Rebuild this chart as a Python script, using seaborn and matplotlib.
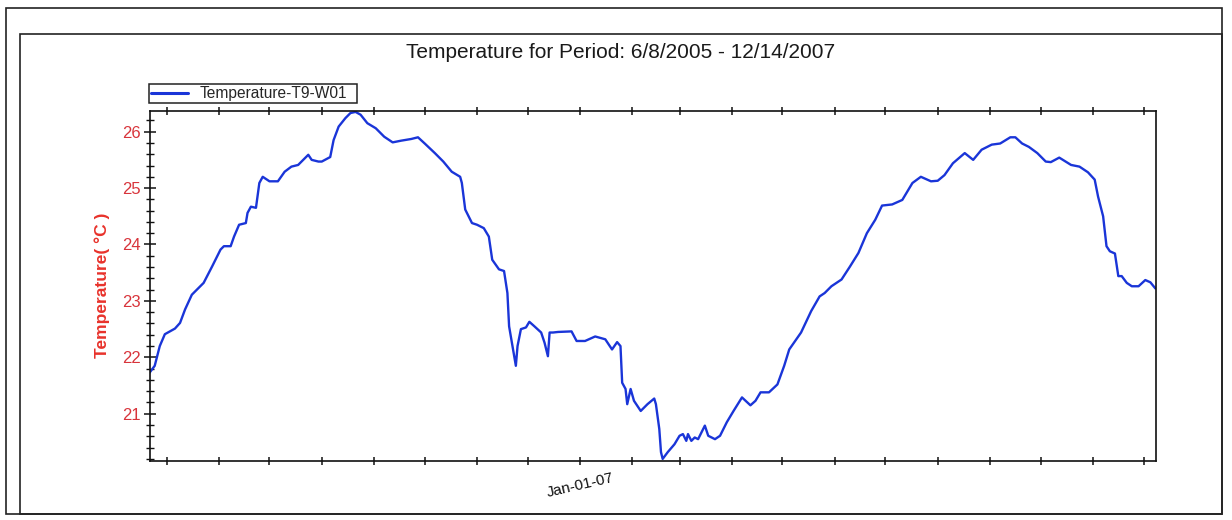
import matplotlib
matplotlib.use("Agg")
import matplotlib.pyplot as plt
import matplotlib.dates as mdates
from matplotlib.patches import Rectangle
from matplotlib.ticker import FuncFormatter, MultipleLocator
import pandas as pd
import seaborn as sns

# Water temperature record, sensor T9-W01
dates = [
    "2006-04-21", "2006-04-24", "2006-04-27", "2006-04-30", "2006-05-06", "2006-05-09",
    "2006-05-12", "2006-05-16", "2006-05-23", "2006-05-28", "2006-06-02", "2006-06-04",
    "2006-06-08", "2006-06-10", "2006-06-13", "2006-06-17", "2006-06-18", "2006-06-20",
    "2006-06-23", "2006-06-25", "2006-06-27", "2006-07-01", "2006-07-06", "2006-07-10",
    "2006-07-14", "2006-07-18", "2006-07-21", "2006-07-24", "2006-07-26", "2006-07-30",
    "2006-08-01", "2006-08-06", "2006-08-08", "2006-08-11", "2006-08-15", "2006-08-18",
    "2006-08-21", "2006-08-24", "2006-08-28", "2006-09-02", "2006-09-07", "2006-09-12",
    "2006-09-17", "2006-09-23", "2006-09-27", "2006-10-01", "2006-10-07", "2006-10-12",
    "2006-10-17", "2006-10-22", "2006-10-23", "2006-10-25", "2006-10-27", "2006-10-29",
    "2006-11-01", "2006-11-05", "2006-11-08", "2006-11-10", "2006-11-14", "2006-11-17",
    "2006-11-19", "2006-11-20", "2006-11-22", "2006-11-24", "2006-11-25", "2006-11-27",
    "2006-11-30", "2006-12-02", "2006-12-05", "2006-12-09", "2006-12-11", "2006-12-13",
    "2006-12-14", "2006-12-16", "2006-12-19", "2006-12-27", "2006-12-30", "2007-01-04",
    "2007-01-10", "2007-01-16", "2007-01-20", "2007-01-23", "2007-01-25", "2007-01-26",
    "2007-01-28", "2007-01-29", "2007-01-31", "2007-02-02", "2007-02-06", "2007-02-10",
    "2007-02-14", "2007-02-15", "2007-02-17", "2007-02-18", "2007-02-19", "2007-02-22",
    "2007-02-26", "2007-03-01", "2007-03-03", "2007-03-05", "2007-03-06", "2007-03-08",
    "2007-03-10", "2007-03-12", "2007-03-16", "2007-03-18", "2007-03-22", "2007-03-25",
    "2007-03-29", "2007-04-02", "2007-04-07", "2007-04-12", "2007-04-15", "2007-04-18",
    "2007-04-23", "2007-04-28", "2007-05-02", "2007-05-05", "2007-05-12", "2007-05-18",
    "2007-05-23", "2007-05-26", "2007-05-30", "2007-06-05", "2007-06-10", "2007-06-15",
    "2007-06-20", "2007-06-25", "2007-06-29", "2007-07-05", "2007-07-11", "2007-07-17",
    "2007-07-22", "2007-07-28", "2007-08-01", "2007-08-05", "2007-08-10", "2007-08-17",
    "2007-08-22", "2007-08-27", "2007-09-02", "2007-09-07", "2007-09-13", "2007-09-16",
    "2007-09-20", "2007-09-24", "2007-09-29", "2007-10-04", "2007-10-07", "2007-10-12",
    "2007-10-19", "2007-10-24", "2007-10-29", "2007-11-02", "2007-11-04", "2007-11-07",
    "2007-11-09", "2007-11-11", "2007-11-14", "2007-11-16", "2007-11-18", "2007-11-21",
    "2007-11-24", "2007-11-28", "2007-12-02", "2007-12-05", "2007-12-08",
]
temperature = [
    21.73, 21.85, 22.20, 22.41, 22.51, 22.61,
    22.85, 23.11, 23.32, 23.61, 23.91, 23.97,
    23.97, 24.14, 24.35, 24.38, 24.56, 24.67,
    24.65, 25.09, 25.20, 25.12, 25.12, 25.29,
    25.38, 25.41, 25.50, 25.59, 25.50, 25.47,
    25.47, 25.55, 25.85, 26.09, 26.24, 26.33,
    26.35, 26.30, 26.15, 26.06, 25.91, 25.81,
    25.84, 25.87, 25.90, 25.79, 25.62, 25.47,
    25.29, 25.20, 25.09, 24.62, 24.50, 24.38,
    24.35, 24.29, 24.14, 23.73, 23.56, 23.53,
    23.14, 22.55, 22.20, 21.85, 22.20, 22.50,
    22.53, 22.63, 22.55, 22.44, 22.26, 22.02,
    22.44, 22.44, 22.45, 22.46, 22.29, 22.29,
    22.37, 22.32, 22.14, 22.27, 22.20, 21.55,
    21.44, 21.17, 21.44, 21.23, 21.05, 21.17,
    21.27, 21.17, 20.73, 20.32, 20.20, 20.32,
    20.46, 20.61, 20.64, 20.52, 20.64, 20.52,
    20.58, 20.55, 20.79, 20.61, 20.55, 20.61,
    20.85, 21.05, 21.29, 21.15, 21.23, 21.38,
    21.38, 21.52, 21.85, 22.14, 22.44, 22.82,
    23.08, 23.14, 23.26, 23.38, 23.61, 23.85,
    24.20, 24.44, 24.69, 24.71, 24.79, 25.09,
    25.20, 25.12, 25.13, 25.23, 25.44, 25.62,
    25.50, 25.68, 25.77, 25.79, 25.90, 25.90,
    25.79, 25.73, 25.62, 25.47, 25.46, 25.54,
    25.41, 25.38, 25.28, 25.15, 24.85, 24.50,
    23.97, 23.88, 23.84, 23.44, 23.44, 23.32,
    23.26, 23.26, 23.37, 23.33, 23.22,
]
series_name = "Temperature-T9-W01"
title_text = "Temperature for Period: 6/8/2005 - 12/14/2007"
y_label = "Temperature( \u00b0C )"

df = pd.DataFrame({"date": pd.to_datetime(dates), "temp": temperature})

sns.set_theme(style="white")
plt.rcParams["font.family"] = ["Liberation Sans", "DejaVu Sans"]

W, H = 1232, 520
fig = plt.figure(figsize=(W / 100, H / 100), dpi=100)
fig.patch.set_facecolor("white")


def fx(px):
    return px / W


def fy(py):
    return 1 - py / H


def frame(x0, y0, x1, y1, lw=1.2):
    fig.patches.append(Rectangle((fx(x0), fy(y1)), fx(x1) - fx(x0), fy(y0) - fy(y1),
                                 transform=fig.transFigure, fill=False,
                                 ec="#222222", lw=lw))


# double frame around the whole chart
frame(6, 8, 1222, 514)
frame(20, 34, 1222, 514)

ax = fig.add_axes([fx(150), fy(461), fx(1156) - fx(150), fy(111) - fy(461)])
line_color = "#1a35d8"
sns.lineplot(data=df, x="date", y="temp", ax=ax, color=line_color, lw=1.7,
             label=series_name, legend=False)

ax.set_xlim(pd.Timestamp("2006-04-21 05:00"), pd.Timestamp("2007-12-08 08:00"))
ax.set_ylim(20.163, 26.366)

for s in ax.spines.values():
    s.set_color("#111111")
    s.set_linewidth(1.2)

ax.yaxis.set_major_locator(MultipleLocator(1))
ax.yaxis.set_minor_locator(MultipleLocator(0.2))
ax.tick_params(axis="y", which="major", direction="inout", length=9, width=1.1,
               color="#111111", labelcolor="#d8343b", labelsize=12, pad=2, left=True)
ax.tick_params(axis="y", which="minor", direction="inout", length=6, width=1.0,
               color="#111111", left=True)

ax.xaxis.set_major_locator(mdates.MonthLocator())
ax.xaxis.set_major_formatter(FuncFormatter(
    lambda v, pos: mdates.num2date(v).strftime("%b-%d-%y") if mdates.num2date(v).month == 1 else ""))
ax.tick_params(axis="x", which="major", direction="inout", length=6, width=1.1,
               color="#111111", labelcolor="#111111", labelsize=11, pad=4,
               bottom=True, top=True)
for lbl in ax.get_xticklabels():
    lbl.set_rotation(13)
    lbl.set_ha("center")

ax.set_xlabel("")
ax.set_ylabel("")
ax.grid(False)

fig.text(fx(102), fy(285), y_label, rotation=90, ha="center", va="center",
         color="#e8322b", fontsize=12.5, fontweight="bold")
fig.text(fx(621), fy(53), title_text, ha="center", va="center",
         color="#1a1a1a", fontsize=15)

# legend entry with its own box
handles, labels = ax.get_legend_handles_labels()
leg = fig.legend(handles, labels, loc="lower left",
                 bbox_to_anchor=(fx(149), fy(103)), bbox_transform=fig.transFigure,
                 frameon=False, fontsize=11.2, borderpad=0.1,
                 handlelength=2.4, handletextpad=0.75, borderaxespad=0)
for h in leg.get_lines():
    h.set_linewidth(2.2)
frame(149, 84, 357, 103, lw=1.1)

fig.savefig("out.png", dpi=100)
